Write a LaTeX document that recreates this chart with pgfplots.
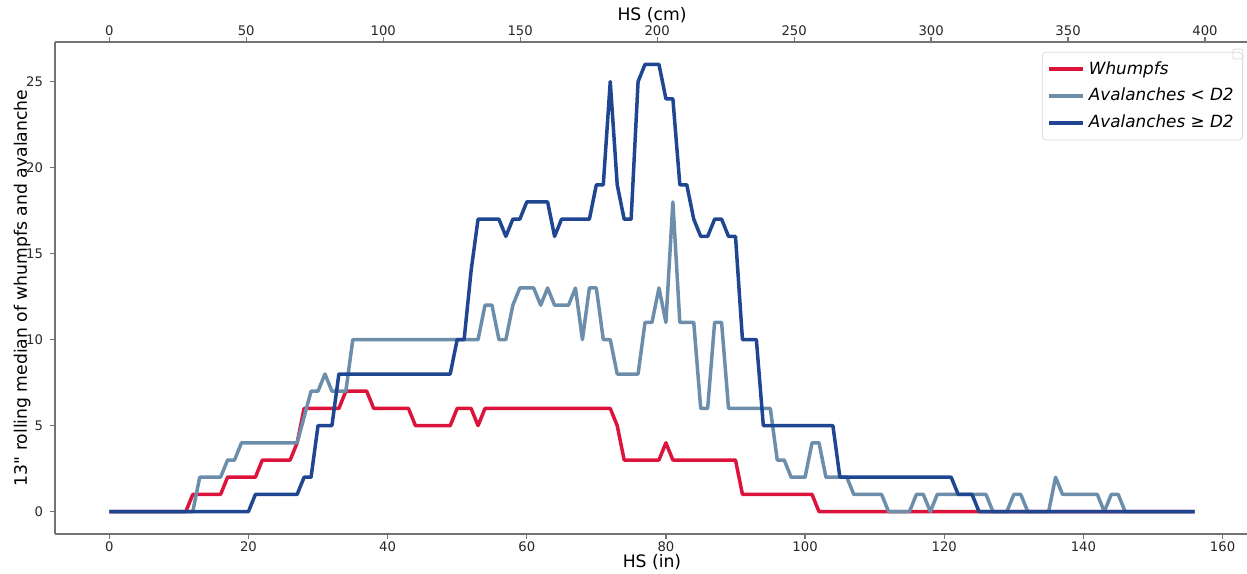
\documentclass[border=0pt]{standalone}
\usepackage{fontspec}
\setmainfont{DejaVu Sans}[Ligatures=TeXOff]
\usepackage{pgfplots}
\pgfplotsset{compat=1.18}

\definecolor{whumpf}{RGB}{220,20,60}
\definecolor{avsmall}{RGB}{108,142,170}
\definecolor{avbig}{RGB}{30,70,145}

\pgfplotsset{
  hsbox/.style={
    scale only axis, width=597pt, height=246pt,
    ymin=-1.3, ymax=27.3,
    axis line style={black!55, line width=0.6pt},
    tick align=outside, major tick length=2.5pt,
    tick style={black!55, line width=0.6pt},
    tick label style={font=\fontsize{6.6}{8}\selectfont, text=black!85},
    xticklabel style={inner sep=1pt},
    /pgf/number format/assume math mode=true,
    label style={font=\fontsize{8.6}{10}\selectfont},
  },
}

\begin{document}
\begin{tikzpicture}
\begin{axis}[
  hsbox,
  xmin=-7.8, xmax=163.8,
  axis x line*=bottom, axis y line*=left,
  xtick={0,20,...,160}, ytick={0,5,...,25},
  xlabel={HS (in)},
  ylabel={13" rolling median of whumpfs and avalanche},
  xlabel style={at={(axis description cs:0.5,-0.0569)}, anchor=center},
  ylabel style={at={(axis description cs:-0.0275,0.5)}, anchor=center},
  legend style={at={(0.995,0.98)}, anchor=north east, draw=black!15,
    rounded corners=2pt, font=\fontsize{8.4}{9.5}\selectfont\itshape,
    inner sep=2.5pt, row sep=1.6pt},
  legend cell align=left,
  every axis plot/.append style={line width=1.75pt, line join=round},
]
% Whumpfs
\addplot[whumpf] coordinates {
  (0,0)(11,0)(12,1)(16,1)(17,2)(21,2)(22,3)(26,3)(27,4)(28,6)(33,6)
  (34,7)(37,7)(38,6)(43,6)(44,5)(49,5)(50,6)(52,6)(53,5)(54,6)(72,6)
  (73,5)(74,3)(79,3)(80,4)(81,3)(90,3)(91,1)(101,1)(102,0)(156,0)
};
\addlegendentry{Whumpfs}
% Avalanches < D2
\addplot[avsmall] coordinates {
  (0,0)(12,0)(13,2)(16,2)(17,3)(18,3)(19,4)(27,4)(28,5.5)(29,7)(30,7)
  (31,8)(32,7)(34,7)(35,10)(53,10)(54,12)(55,12)(56,10)(57,10)(58,12)
  (59,13)(61,13)(62,12)(63,13)(64,12)(66,12)(67,13)(68,10)(69,13)(70,13)
  (71,10)(72,10)(73,8)(76,8)(77,11)(78,11)(79,13)(80,11)(81,18)(82,11)
  (84,11)(85,6)(86,6)(87,11)(88,11)(89,6)(95,6)(96,3)(97,3)(98,2)(100,2)
  (101,4)(102,4)(103,2)(106,2)(107,1)(111,1)(112,0)(115,0)(116,1)(117,1)
  (118,0)(119,1)(126,1)(127,0)(129,0)(130,1)(131,1)(132,0)(135,0)(136,2)
  (137,1)(142,1)(143,0)(144,1)(145,1)(146,0)(156,0)
};
\addlegendentry{Avalanches < D2}
% Avalanches >= D2
\addplot[avbig] coordinates {
  (0,0)(20,0)(21,1)(27,1)(28,2)(29,2)(30,5)(32,5)(33,8)(49,8)(50,10)
  (51,10)(52,14)(53,17)(56,17)(57,16)(58,17)(59,17)(60,18)(63,18)(64,16)
  (65,17)(69,17)(70,19)(71,19)(72,25)(73,19)(74,17)(75,17)(76,25)(77,26)
  (79,26)(80,24)(81,24)(82,19)(83,19)(84,17)(85,16)(86,16)(87,17)(88,17)
  (89,16)(90,16)(91,10)(93,10)(94,5)(104,5)(105,2)(121,2)(122,1)(124,1)
  (125,0)(156,0)
};
\addlegendentry{Avalanches ≥ D2}
\end{axis}

% top axis in cm
\begin{axis}[
  hsbox,
  xmin=-19.812, xmax=416.052,
  axis x line*=top, axis y line=none,
  xtick={0,50,...,400},
  xticklabel style={yshift=-0.3pt},
  xlabel={HS (cm)},
  xlabel style={at={(axis description cs:0.5,1.0549)}, anchor=center},
]
\draw[black!15, rounded corners=1pt]
  (rel axis cs:0.9866,0.9858) rectangle (rel axis cs:0.995,0.9654);
\end{axis}

\pgfresetboundingbox
\useasboundingbox (current axis.south west) ++(-27.5pt,-19.5pt) rectangle ++(623.5pt,286.5pt);
\end{tikzpicture}
\end{document}
